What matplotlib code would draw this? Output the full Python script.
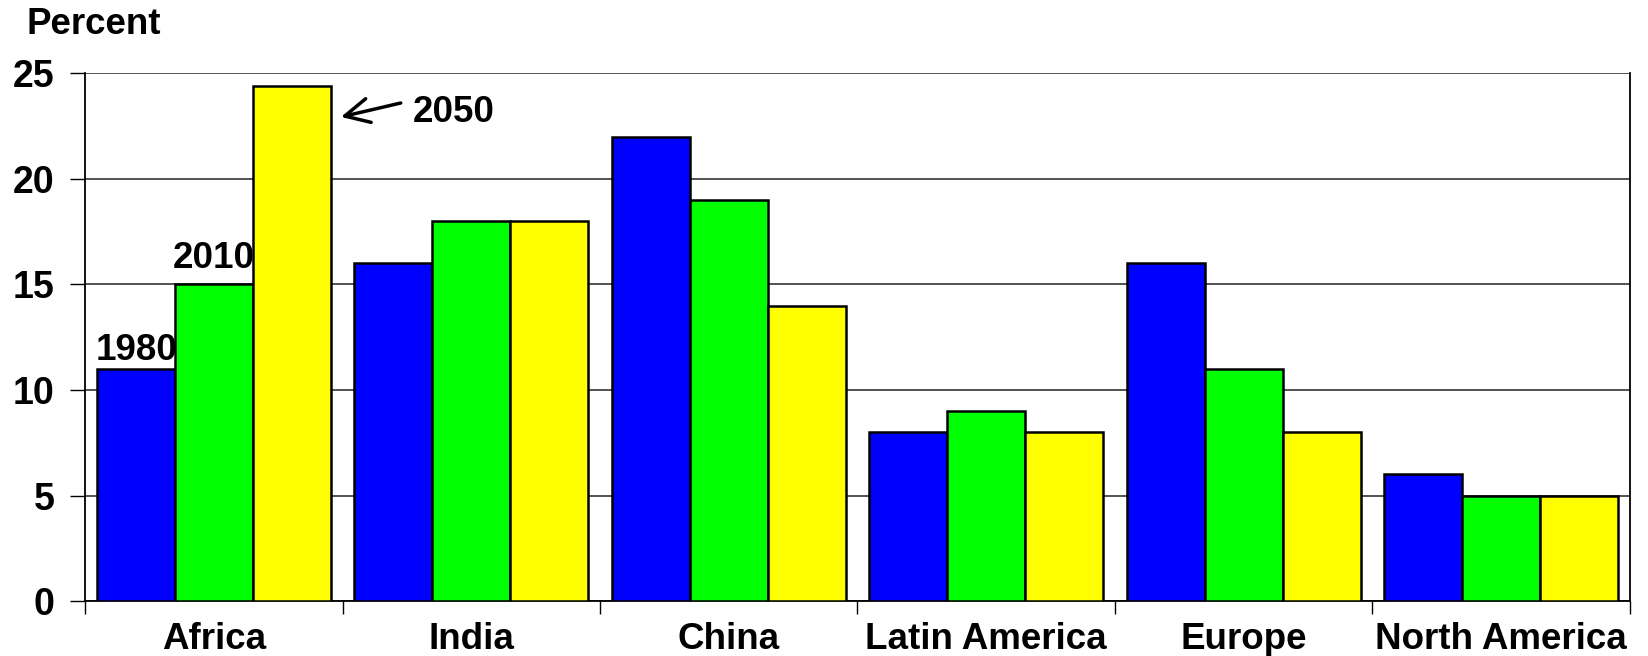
import numpy as np
import matplotlib.pyplot as plt

plt.rcParams['font.family'] = ['Liberation Sans', 'DejaVu Sans']
plt.rcParams['font.weight'] = 'bold'

regions = ['Africa', 'India', 'China', 'Latin America', 'Europe', 'North America']
years = ['1980', '2010', '2050']
v1980 = [11, 16, 22, 8, 16, 6]
v2010 = [15, 18, 19, 9, 11, 5]
v2050 = [24.4, 18, 14, 8, 8, 5]
colors = ['#0000ff', '#00ff00', '#ffff00']

fig = plt.figure(figsize=(16.48, 6.56), dpi=100)
ax = fig.add_axes([0.0516, 0.0838, 0.9374, 0.8042])

x = np.arange(len(regions))
w = 0.303
for k, vals in enumerate([v1980, v2010, v2050]):
    ax.bar(x + (k - 1) * w, vals, width=w, color=colors[k],
           edgecolor='black', linewidth=1.8, zorder=3)

ax.set_xlim(-0.5, len(regions) - 0.5)
ax.set_ylim(0, 25)
ax.set_yticks([0, 5, 10, 15, 20, 25])
ax.yaxis.grid(True, color='#444444', linewidth=1.3, zorder=0)
ax.tick_params(axis='y', direction='out', length=11, width=1, labelsize=27, pad=11)

# category separators as ticks, labels at centers
ax.set_xticks(np.arange(-0.5, len(regions)), minor=False)
ax.set_xticklabels([])
ax.set_xticks(x, minor=True)
ax.set_xticklabels(regions, minor=True, fontsize=26.5, fontweight='bold')
ax.tick_params(axis='x', which='major', direction='out', length=9, width=1)
ax.tick_params(axis='x', which='minor', length=0, pad=15)

ax.spines['top'].set_visible(False)
for s in ['left', 'bottom', 'right']:
    ax.spines[s].set_linewidth(1.3)

for lab in ax.get_yticklabels():
    lab.set_fontweight('bold')

fig.text(0.016, 0.948, 'Percent', fontsize=26.5, fontweight='bold', ha='left', va='baseline')

ax.text(-0.457, 11.42, years[0], fontsize=26.5, fontweight='bold', ha='left', va='baseline', zorder=5)
ax.text(-0.158, 15.78, years[1], fontsize=26.5, fontweight='bold', ha='left', va='baseline', zorder=5)
ax.text(0.774, 22.7, years[2], fontsize=26.5, fontweight='bold', ha='left', va='baseline', zorder=5)
ax.annotate('', xy=(0.494, 22.94), xytext=(0.726, 23.6),
            arrowprops=dict(arrowstyle='->,head_length=0.7,head_width=0.35',
                            color='black', lw=2.5,
                            mutation_scale=25, shrinkA=0, shrinkB=0))

fig.savefig('out.png', dpi=100)
